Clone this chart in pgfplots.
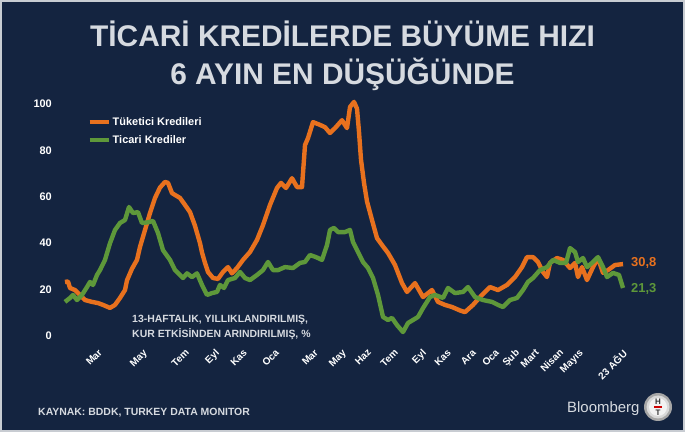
\documentclass[border=0pt]{standalone}
\usepackage{fontspec}
\setmainfont{Liberation Sans}
\usepackage{pgfplots}
\pgfplotsset{compat=1.18}
\definecolor{navy}{RGB}{20,36,64}
\definecolor{frame}{RGB}{200,204,210}
\definecolor{orng}{RGB}{232,113,30}
\definecolor{grn}{RGB}{94,152,58}
\definecolor{ltxt}{RGB}{214,218,224}
\begin{document}
\begin{tikzpicture}
\useasboundingbox (0,0) rectangle (685bp,432bp);
\fill[frame] (0,0) rectangle (685bp,432bp);
\fill[navy] (2bp,2bp) rectangle (683bp,430bp);
\node[anchor=base, text=ltxt, font=\bfseries\fontsize{30}{32}\selectfont, inner sep=0pt] at (342.5bp,385bp) {TİCARİ KREDİLERDE BÜYÜME HIZI};
\node[anchor=base, text=ltxt, font=\bfseries\fontsize{30}{32}\selectfont, inner sep=0pt] at (342.5bp,347bp) {6 AYIN EN DÜŞÜĞÜNDE};
\begin{axis}[
  scale only axis, width=584bp, height=255.2bp,
  at={(56bp,84.4bp)}, anchor=south west,
  xmin=56, xmax=640, ymin=-5, ymax=105,
  axis line style={draw=none}, major tick length=0pt,
  ytick={0,20,40,60,80,100},
  /pgf/number format/assume math mode=true,
  yticklabel style={inner sep=0pt, anchor=east, xshift=-4bp, text=white, font=\bfseries\fontsize{11}{12}\selectfont},
  xtick={97,142,184,214,242,274,313,341,366,393,421,446,471,494,514,534,558,578,621},
  xticklabels={Mar,May,Tem,Eyl,Kas,Oca,Mar,May,Haz,Tem,Eyl,Kas,Ara,Oca,Şub,Mart,Nisan,Mayıs,23 AĞU},
  xticklabel style={rotate=45, anchor=north east, inner sep=0pt, yshift=-1bp, text=white, font=\bfseries\fontsize{10}{11}\selectfont},
  legend style={at={(0.054,0.911)}, anchor=north west, draw=none, fill=none, inner sep=0pt,
    text=white, font=\bfseries\fontsize{11}{12}\selectfont, row sep=5bp,
    /tikz/every even column/.append style={column sep=0pt}},
  legend cell align=left,
  legend image code/.code={\draw[#1, line width=4bp] (0bp,0bp) -- (19bp,0bp);},
  clip=false,
]
\addplot[orng, line width=4.4bp, line join=round] coordinates {
(65,23.3)(68,23.5)(70,20.7)(75,19.8)(80,17.7)(85,15.5)(92,14.7)(98,14.2)(103,13.4)(110,12.1)
(115,13.4)(120,16.4)(125,19.8)(127,24)(132,29)(137,32.8)(140,38.4)(145,45.7)(150,53)(155,59.5)
(160,64)(165,66.4)(168,66)(172,61.6)(175,60.8)(180,59.5)(185,56.5)(190,53.4)(195,47.5)(200,40)
(202,36)(205,31.5)(208,27.6)(213,25)(218,24.6)(223,27.6)(228,29.7)(232,27)(237,29.3)(243,32.8)
(250,36.2)(257,41.4)(263,47.8)(270,56.5)(277,63.8)(281,66)(286,63.8)(292,68)(297,64.2)(302,64.2)
(305,82.3)(308,85.3)(313,92.2)(320,91)(325,90)(330,87.5)(335,89.6)(342,93)(347,89.6)(350,98.7)
(354,100.9)(357,98)(359,88)(361,76)(364,66)(367,58)(372,50)(377,42.2)(382,39.2)(388,35.8)
(395,30.6)(402,22.8)(407,19)(415,22.8)(423,16.8)(432,19.8)(438,14.7)(445,13.4)(452,12.5)(460,11)
(465,10.3)(473,13.4)(482,17.7)(490,21.1)(498,19.8)(507,22)(515,25.4)(522,29.7)(527,34)(533,34)
(538,31.9)(543,27.6)(547,25.4)(550,31.5)(557,33.6)(563,32.8)(570,29.3)(575,31.5)(578,25.4)(582,29.7)
(587,24.1)(593,29.7)(598,33.6)(603,27.2)(608,28.4)(615,30.6)(623,31)
};
\addlegendentry{Tüketici Kredileri}
\addplot[grn, line width=4.4bp, line join=round] coordinates {
(65,14.7)(70,16.4)(73,17.7)(77,15.5)(82,17.7)(87,21.1)(90,23.3)(93,22)(97,26.3)(100,28.4)
(105,32.8)(110,40)(115,45.7)(120,48.7)(125,50)(129,55.6)(133,53)(138,53.4)(142,48.7)(148,49)
(153,49.6)(158,44.4)(163,37)(170,32.8)(175,28.4)(180,26.3)(183,25)(187,27)(192,25.4)(197,27)
(202,22)(207,17.7)(212,18.5)(217,19)(220,22)(224,20.7)(228,24.1)(235,25)(240,27.6)(245,25)
(250,24.1)(257,26.3)(263,28.4)(268,31.9)(273,28.4)(278,28.4)(285,29.7)(293,29.3)(300,31.5)(305,31.9)
(310,34.9)(316,34)(322,32.8)(327,39.2)(330,45.7)(334,46.6)(338,44.8)(345,44.8)(350,45.7)(353,40.5)
(358,36.2)(363,31.9)(368,29.3)(373,25)(378,17.7)(383,8.2)(388,6.9)(392,7.8)(397,4.7)(403,1.7)
(408,5.6)(413,6.9)(418,8.2)(423,12)(430,16.8)(435,17.7)(443,16.4)(448,20.7)(455,18.5)(463,19)
(468,21.1)(475,16.8)(483,15.5)(492,14.7)(498,13.4)(503,12.5)(510,15.5)(517,16.4)(523,19.8)(528,23.3)
(533,25)(540,28.4)(547,29.7)(553,32.8)(560,31.5)(566,31.5)(570,37.9)(575,36.2)(578,31.9)(583,33.6)
(587,29.7)(592,31.5)(598,34)(603,29.7)(607,25.4)(613,27.2)(619,26.3)(623,20.7)
};
\addlegendentry{Ticari Krediler}
\node[anchor=west, text=orng, font=\bfseries\fontsize{13}{14}\selectfont, inner sep=0pt] at (axis cs:631,31.3) {30,8};
\node[anchor=west, text=grn, font=\bfseries\fontsize{13}{14}\selectfont, inner sep=0pt] at (axis cs:631,20.3) {21,3};
\end{axis}
\node[anchor=west, text=ltxt, font=\bfseries\fontsize{10.5}{12}\selectfont, inner sep=0pt] at (132bp,112bp) {13-HAFTALIK, YILLIKLANDIRILMIŞ,};
\node[anchor=west, text=ltxt, font=\bfseries\fontsize{10.5}{12}\selectfont, inner sep=0pt] at (132bp,98bp) {KUR ETKİSİNDEN ARINDIRILMIŞ, \%};
\node[anchor=west, text=ltxt, font=\bfseries\fontsize{10.5}{12}\selectfont, inner sep=0pt] at (38bp,19bp) {KAYNAK: BDDK, TURKEY DATA MONITOR};
\node[anchor=base west, text=ltxt, font=\fontsize{15}{16}\selectfont, inner sep=0pt] at (567bp,20bp) {Bloomberg};
\fill[gray!70] (658bp,25bp) circle (14bp);
\fill[gray!30] (658bp,25bp) circle (11.5bp);
\fill[white!90!gray] (658bp,25bp) circle (9bp);
\node[font=\bfseries\fontsize{8}{8}\selectfont, text=black!80, inner sep=0pt] at (658bp,30bp) {H};
\fill[red!80!black] (654bp,24.3bp) rectangle (662bp,25.7bp);
\node[font=\bfseries\fontsize{8}{8}\selectfont, text=black!80, inner sep=0pt] at (658bp,19.5bp) {T};
\end{tikzpicture}
\end{document}
